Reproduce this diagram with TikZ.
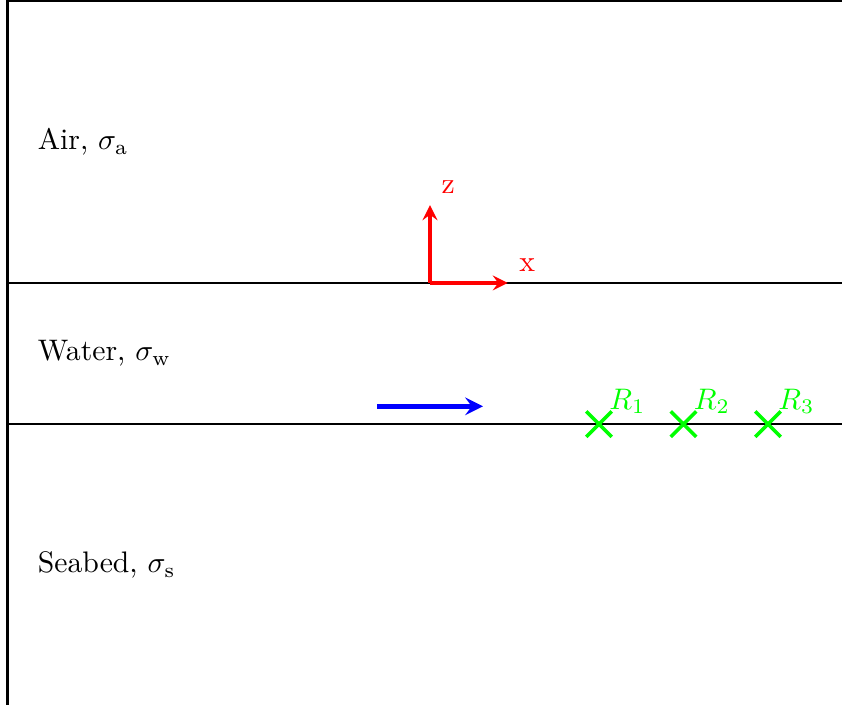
\documentclass[tikz,border=0pt]{standalone}
\usepackage{amsmath}
\usepackage{xcolor}
\usepackage{tikz}
\usetikzlibrary{shapes.misc,arrows}

\begin{document}
\begin{tikzpicture}[layer/.style={anchor=west}, receiver/.style={draw=green, cross out, line width=1.2pt, minimum size=0.26cm, inner sep=0pt}]
				\useasboundingbox (-5.089,-4.994) rectangle (4.876,3.349);
				\clip (-5.089,-4.994) rectangle (4.876,3.349);
				% frame and interfaces
				\draw[thick] (-5,-5.5) -- (-5,3.337) -- (5.5,3.337);
				\draw[thick] (-5,0) -- (5.5,0);
				\draw[thick] (-5,-1.67) -- (5.5,-1.67);
				\node[layer] (air) at (-4.765,1.67) {Air, $\sigma_\text{a}$};
				\node[layer] (water) at (-4.765,-0.835) {Water, $\sigma_\text{w}$};
				\node[layer] (seabed) at (-4.765,-3.34) {Seabed, $\sigma_\text{s}$};
				% axes
				\coordinate (O) at (0,0);
				\coordinate (ztip) at (0,0.92);
				\coordinate (xtip) at (0.92,0);
				\draw[red, very thick, -stealth] (O) -- (ztip) node[above right] (zlab) {z};
				\draw[red, very thick, -stealth] (O) -- (xtip) node[above right] (xlab) {x};
				% source
				\coordinate (srcA) at (-0.627,-1.46);
				\coordinate (srcB) at (0.627,-1.46);
				\draw[blue, ultra thick, -stealth] (srcA) -- (srcB);
				% receivers
				\node[receiver] (r1) at (2,-1.67) {};
				\node[receiver] (r2) at (3,-1.67) {};
				\node[receiver] (r3) at (4,-1.67) {};
				\node[green, above right] (r1lab) at (r1.center) {$R_1$};
				\node[green, above right] (r2lab) at (r2.center) {$R_2$};
				\node[green, above right] (r3lab) at (r3.center) {$R_3$};
			\end{tikzpicture}
\end{document}
